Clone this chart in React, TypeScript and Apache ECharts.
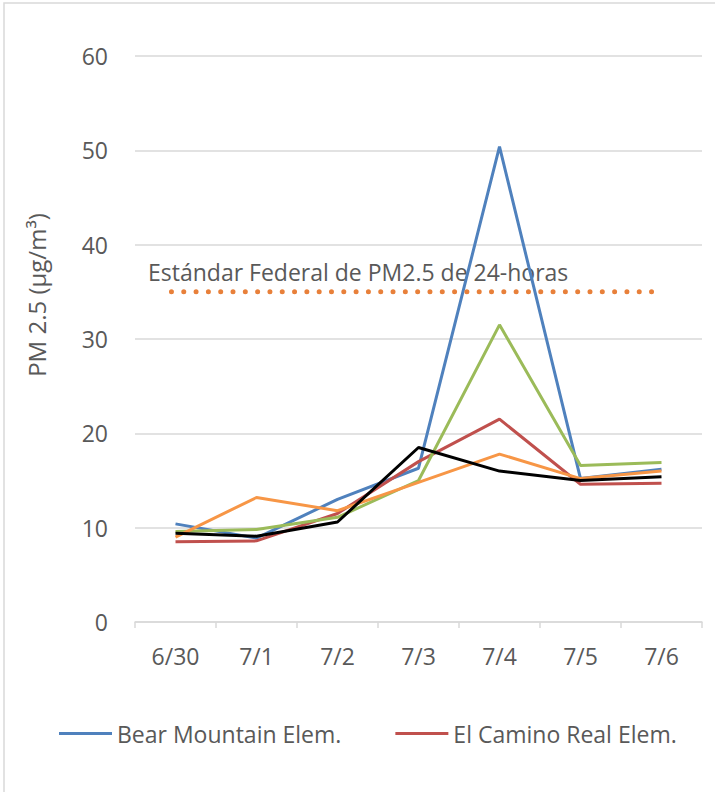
import React, { useEffect, useRef } from "react";
import * as echarts from "echarts";

const categories = ["6/30", "7/1", "7/2", "7/3", "7/4", "7/5", "7/6"];
const bearMountain = [10.4, 8.9, 13.0, 16.3, 50.4, 15.2, 16.2];
const elCaminoReal = [8.5, 8.6, 11.5, 17.0, 21.5, 14.6, 14.7];
const site3 = [9.6, 9.8, 11.1, 15.0, 31.5, 16.6, 16.9];
const site4 = [9.0, 13.2, 11.8, 14.8, 17.8, 15.2, 16.0];
const site5 = [9.4, 9.1, 10.6, 18.5, 16.0, 15.0, 15.4];
const standardLine = [[-0.05, 35], [5.92, 35]];
const yTicks = { min: 0, max: 60, interval: 10 };
const legendNames = ["Bear Mountain Elem.", "El Camino Real Elem."];

const FONT = "'Open Sans', 'Noto Sans', sans-serif";
const TXT = "#595959";

export default function App() {
  const ref = useRef<HTMLDivElement>(null);
  useEffect(() => {
    if (!ref.current) return;
    const chart = echarts.init(ref.current, null, { renderer: "svg" });
    const lineSeries = (name: string, data: number[], color: string) => ({
      name,
      type: "line",
      data,
      xAxisIndex: 0,
      yAxisIndex: 0,
      symbol: "none",
      lineStyle: { color, width: 3 },
      itemStyle: { color },
    });
    chart.setOption({
      animation: false,
      backgroundColor: "#ffffff",
      textStyle: { fontFamily: FONT },
      grid: { left: 135, right: 13, top: 56, bottom: 170, containLabel: false },
      legend: {
        data: legendNames,
        left: 59,
        top: 722,
        padding: 0,
        icon: "rect",
        itemWidth: 53,
        itemHeight: 3,
        itemGap: 54,
        textStyle: { color: TXT, fontSize: 23, fontFamily: FONT },
      },
      xAxis: [
        {
          type: "category",
          data: categories,
          boundaryGap: true,
          axisLine: { lineStyle: { color: "#D9D9D9", width: 1.5 } },
          axisTick: { show: true, length: 6, lineStyle: { color: "#D9D9D9", width: 1.5 } },
          axisLabel: { color: TXT, fontSize: 23, margin: 22, fontFamily: FONT },
          splitLine: { show: false },
        },
        {
          type: "value",
          min: -0.5,
          max: 6.5,
          show: false,
        },
      ],
      yAxis: {
        type: "value",
        min: yTicks.min,
        max: yTicks.max,
        interval: yTicks.interval,
        axisLine: { show: false },
        axisTick: { show: false },
        axisLabel: { color: TXT, fontSize: 23, margin: 27, fontFamily: FONT },
        splitLine: { lineStyle: { color: "#D9D9D9", width: 1.5 } },
      },
      series: [
        lineSeries("Bear Mountain Elem.", bearMountain, "#4F81BD"),
        lineSeries("El Camino Real Elem.", elCaminoReal, "#C0504D"),
        lineSeries("Sitio 3", site3, "#9BBB59"),
        lineSeries("Sitio 4", site4, "#F79646"),
        lineSeries("Sitio 5", site5, "#000000"),
        {
          name: "Estándar",
          type: "line",
          xAxisIndex: 1,
          yAxisIndex: 0,
          data: standardLine,
          symbol: "none",
          lineStyle: { color: "#E8803A", width: 5, type: [0.01, 12.3], cap: "round" },
          z: 3,
        },
      ],
      graphic: [
        {
          type: "rect",
          shape: { x: 4, y: 3, width: 900, height: 1000 },
          style: { fill: "none", stroke: "#D9D9D9", lineWidth: 1.5 },
          silent: true,
          z: -10,
        },
        {
          type: "text",
          x: 36,
          y: 295,
          rotation: Math.PI / 2,
          style: {
            text: "PM 2.5 (µg/m³)",
            fill: TXT,
            font: `24px ${FONT}`,
            align: "center",
            verticalAlign: "middle",
          },
        },
        {
          type: "text",
          x: 148,
          y: 272,
          style: {
            text: "Estándar Federal de PM2.5 de 24-horas",
            fill: TXT,
            font: `23px ${FONT}`,
            align: "left",
            verticalAlign: "middle",
          },
        },
      ],
    });
    return () => chart.dispose();
  }, []);
  return (
    <div
      ref={ref}
      style={{ position: "fixed", left: 0, top: 0, width: 715, height: 792 }}
    />
  );
}
